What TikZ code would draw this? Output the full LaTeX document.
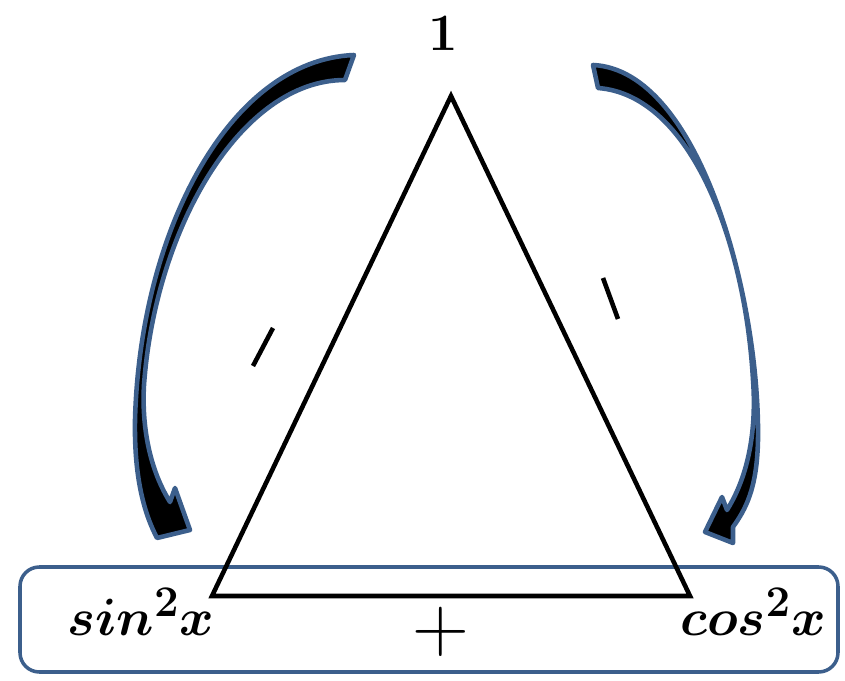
\documentclass[tikz,border=0pt]{standalone}
\usetikzlibrary{arrows.meta}
\definecolor{frameblue}{HTML}{3C5F8C}
\newcommand{\bigterm}[1]{\scalebox{1.2}{\boldmath$#1$}}
\tikzset{curvearrow/.style={fill=black,draw=frameblue,line width=2.6pt,line join=round},
  side/.style={line width=2.6pt,line join=miter},
  term/.style={font=\Huge}}

\begin{document}
\begin{tikzpicture}[x=0.2mm,y=-0.2mm]
\useasboundingbox (0,0) rectangle (845,681);
\draw[frameblue,line width=2pt,rounded corners=11pt] (20,567) rectangle (838,672);
\coordinate (apex) at (451,96);\coordinate (left) at (212,596);\coordinate (right) at (690,596);
\draw[side] (apex)--(right)--(left)--cycle;
\node[term] (one) at (443,34){\bigterm{1}};
\node[term] (sin) at (141,612){\bigterm{sin^2x}};\node[term] (cos) at (753,612){\bigterm{cos^2x}};
\node[term] (plus) at (441,632){\scalebox{1.8}{$+$}};
\draw[side] (273,328)--(253,366) (603,278)--(618,319);
% curved arrows
\draw[curvearrow] (354,55) .. controls (230,60) and (140,230) .. (135,420) .. controls (134,480) and (145,515) .. (157,538)
  -- (190,530) -- (175,488) -- (170,502) .. controls (147,465) and (142,420) .. (144,385) .. controls (155,230) and (240,80) .. (345,80) -- cycle;
\draw[curvearrow] (593,65) .. controls (700,70) and (760,300) .. (758,440) .. controls (757,490) and (745,510) .. (733,527)
  -- (733,543) -- (705,532) -- (722,497) -- (727,510) .. controls (752,470) and (756,420) .. (753,380) .. controls (745,240) and (690,95) .. (598,88) -- cycle;
\end{tikzpicture}
\end{document}
